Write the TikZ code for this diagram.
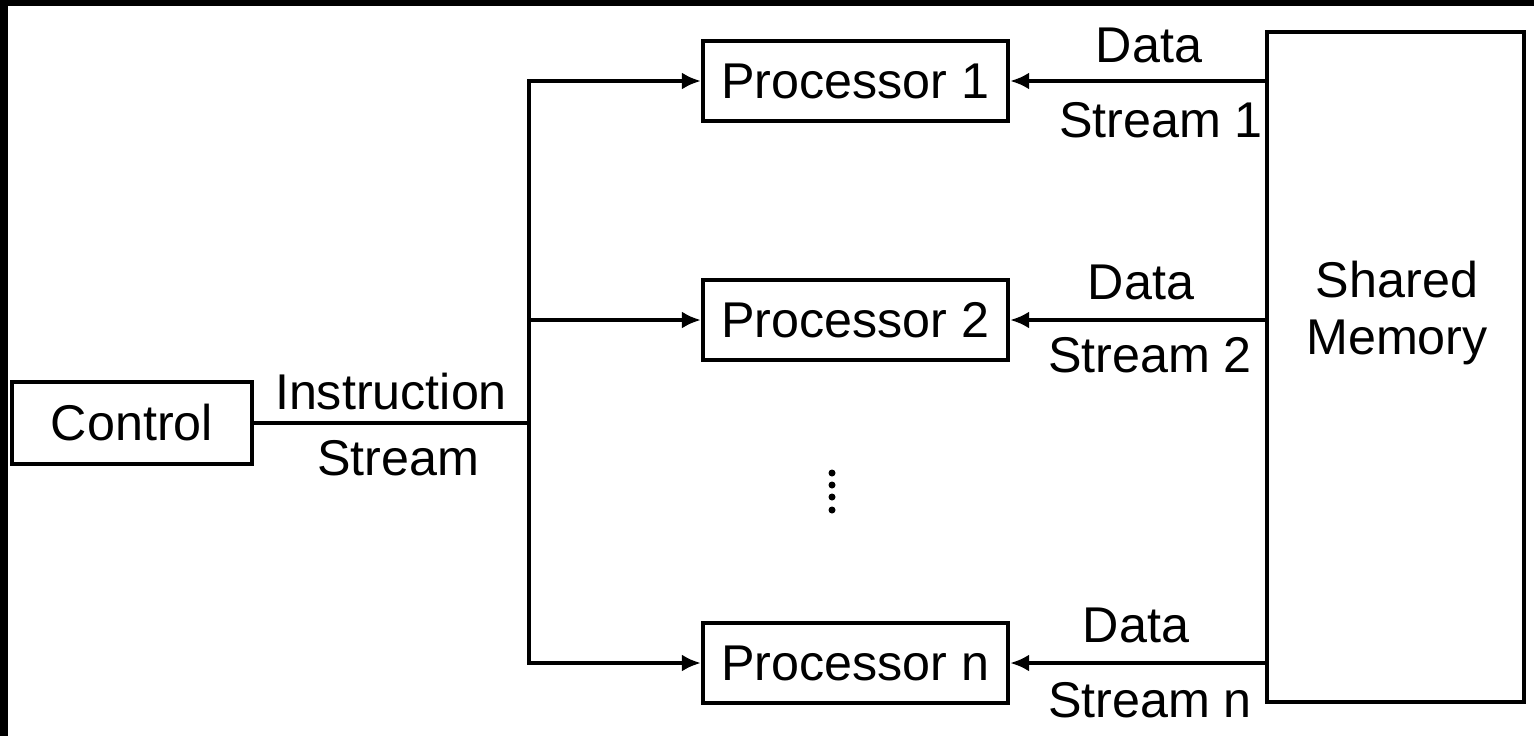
\documentclass[tikz,border=0pt]{standalone}
\usepackage{fontspec}
\setmainfont{Liberation Sans}
\usetikzlibrary{arrows.meta,positioning}
\newcommand{\lblfont}{\fontsize{14.3}{14.3}\selectfont}

\begin{document}
\begin{tikzpicture}[
  box/.style={draw,line width=1.2pt,minimum width=3.05cm,minimum height=0.8cm,font=\lblfont},
  lbl/.style={font=\lblfont,inner sep=0pt},
  wire/.style={line width=1.2pt},
  arrow/.style={-{Latex[length=1.9mm,width=1.7mm]},line width=1.2pt}
]
\useasboundingbox (0,0) rectangle (15.34,-7.36);
\fill (0,0) rectangle (15.34,-0.06);
\fill (0,0) rectangle (0.08,-7.36);
\node[box,minimum width=2.4cm,minimum height=0.82cm] (ctrl) at (1.32,-4.23) {Control};
\node[box] (p1) at (8.555,-0.81) {Processor 1};
\node[box] (p2) at (8.555,-3.20) {Processor 2};
\node[box] (pn) at (8.555,-6.63) {Processor n};
\node[box,minimum width=2.57cm,minimum height=6.7cm] (mem) at (13.955,-3.67) {};
\node[lbl,align=center] (memtxt) at (13.97,-3.13) {Shared\\[0.06cm]Memory};
\coordinate (bus) at (5.29,-4.23);
\draw[wire] (ctrl.east) -- (bus);
\draw[arrow] (bus) |- (p1.west);
\draw[arrow] (bus |- p2.west) -- (p2.west);
\draw[arrow] (bus) |- (pn.west);
\draw[arrow] (mem.west |- p1.east) -- (p1.east);
\draw[arrow] (mem.west |- p2.east) -- (p2.east);
\draw[arrow] (mem.west |- pn.east) -- (pn.east);
\node[lbl] (ins) at (3.91,-3.92) {Instruction};
\node[lbl] (instr) at (3.98,-4.58) {Stream};
\node[lbl] (d1) at (11.49,-0.45) {Data};
\node[lbl] (s1) at (11.61,-1.20) {Stream 1};
\node[lbl] (d2) at (11.41,-2.82) {Data};
\node[lbl] (s2) at (11.50,-3.55) {Stream 2};
\node[lbl] (dn) at (11.36,-6.25) {Data};
\node[lbl] (sn) at (11.50,-7.00) {Stream n};
\fill (8.32,-4.73) circle (0.035) (8.32,-4.85) circle (0.035)
      (8.32,-4.97) circle (0.035) (8.32,-5.10) circle (0.035);
\end{tikzpicture}
\end{document}
